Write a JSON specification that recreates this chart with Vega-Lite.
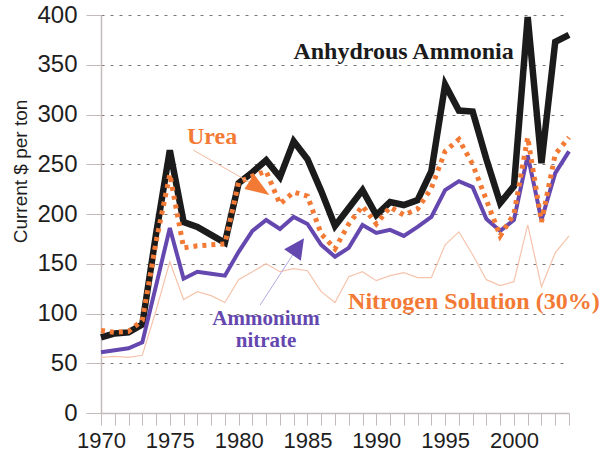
{
  "$schema": "https://vega.github.io/schema/vega-lite/v6.json",
  "width": 468,
  "height": 398,
  "autosize": "none",
  "padding": {"left": 101, "top": 15, "right": 36, "bottom": 44},
  "background": "white",
  "config": {"view": {"stroke": null}, "font": "Liberation Sans"},
  "datasets": {
    "anhydrous": [
      {"year":1970,"value":76},{"year":1971,"value":80},{"year":1972,"value":81},{"year":1973,"value":89},{"year":1974,"value":180},
      {"year":1975,"value":264},{"year":1976,"value":192},{"year":1977,"value":187},{"year":1978,"value":179},{"year":1979,"value":171},
      {"year":1980,"value":231},{"year":1981,"value":242},{"year":1982,"value":254},{"year":1983,"value":237},{"year":1984,"value":273},
      {"year":1985,"value":255},{"year":1986,"value":223},{"year":1987,"value":188},{"year":1988,"value":206},{"year":1989,"value":224},
      {"year":1990,"value":199},{"year":1991,"value":212},{"year":1992,"value":209},{"year":1993,"value":214},{"year":1994,"value":243},
      {"year":1995,"value":330},{"year":1996,"value":304},{"year":1997,"value":303},{"year":1998,"value":255},{"year":1999,"value":211},
      {"year":2000,"value":228},{"year":2001,"value":398},{"year":2002,"value":251},{"year":2003,"value":373},{"year":2004,"value":380}
    ],
    "urea": [
      {"year":1970,"value":83},{"year":1971,"value":81},{"year":1972,"value":82},{"year":1973,"value":93},{"year":1974,"value":172},
      {"year":1975,"value":240},{"year":1976,"value":166},{"year":1977,"value":168},{"year":1978,"value":169},{"year":1979,"value":170},
      {"year":1980,"value":232},{"year":1981,"value":238},{"year":1982,"value":243},{"year":1983,"value":210},{"year":1984,"value":222},
      {"year":1985,"value":218},{"year":1986,"value":180},{"year":1987,"value":165},{"year":1988,"value":190},{"year":1989,"value":208},
      {"year":1990,"value":190},{"year":1991,"value":207},{"year":1992,"value":199},{"year":1993,"value":205},{"year":1994,"value":226},
      {"year":1995,"value":263},{"year":1996,"value":275},{"year":1997,"value":250},{"year":1998,"value":214},{"year":1999,"value":178},
      {"year":2000,"value":200},{"year":2001,"value":277},{"year":2002,"value":192},{"year":2003,"value":260},{"year":2004,"value":277}
    ],
    "nitrate": [
      {"year":1970,"value":61},{"year":1971,"value":63},{"year":1972,"value":65},{"year":1973,"value":71},{"year":1974,"value":128},
      {"year":1975,"value":186},{"year":1976,"value":135},{"year":1977,"value":142},{"year":1978,"value":140},{"year":1979,"value":138},
      {"year":1980,"value":162},{"year":1981,"value":183},{"year":1982,"value":194},{"year":1983,"value":185},{"year":1984,"value":197},
      {"year":1985,"value":190},{"year":1986,"value":169},{"year":1987,"value":157},{"year":1988,"value":166},{"year":1989,"value":189},
      {"year":1990,"value":181},{"year":1991,"value":184},{"year":1992,"value":178},{"year":1993,"value":187},{"year":1994,"value":197},
      {"year":1995,"value":224},{"year":1996,"value":233},{"year":1997,"value":227},{"year":1998,"value":195},{"year":1999,"value":183},
      {"year":2000,"value":194},{"year":2001,"value":259},{"year":2002,"value":194},{"year":2003,"value":241},{"year":2004,"value":263}
    ],
    "solution": [
      {"year":1970,"value":56},{"year":1971,"value":57},{"year":1972,"value":56},{"year":1973,"value":58},{"year":1974,"value":103},
      {"year":1975,"value":152},{"year":1976,"value":114},{"year":1977,"value":122},{"year":1978,"value":118},{"year":1979,"value":111},
      {"year":1980,"value":134},{"year":1981,"value":142},{"year":1982,"value":150},{"year":1983,"value":142},{"year":1984,"value":145},
      {"year":1985,"value":143},{"year":1986,"value":122},{"year":1987,"value":111},{"year":1988,"value":137},{"year":1989,"value":142},
      {"year":1990,"value":133},{"year":1991,"value":138},{"year":1992,"value":141},{"year":1993,"value":136},{"year":1994,"value":136},
      {"year":1995,"value":169},{"year":1996,"value":182},{"year":1997,"value":159},{"year":1998,"value":134},{"year":1999,"value":128},
      {"year":2000,"value":132},{"year":2001,"value":189},{"year":2002,"value":127},{"year":2003,"value":161},{"year":2004,"value":178}
    ],
    "ureaArrow": [{"year":1976.69,"value":264.3,"year2":1980.76,"value2":232.2}],
    "nitrateArrow": [{"year":1981.56,"value":108.5,"year2":1983.92,"value2":158.8}],
    "ureaHead": [{"year":1981.5,"value":225.8}],
    "nitrateHead": [{"year":1984.33,"value":167.2}],
    "blackNotes": [{"year":1991.98,"value":362.8,"label":"Anhydrous Ammonia"}],
    "orangeNotes": [{"year":1978.07,"value":277.4,"label":"Urea"}],
    "solutionNote": [{"year":1987.95,"value":111.6,"label":"Nitrogen Solution (30%)"}],
    "purpleNotes": [{"year":1981.99,"value":94.5,"label":"Ammonium"},{"year":1981.99,"value":72.4,"label":"nitrate"}]
  },
  "encoding": {
    "x": {
      "field": "year", "type": "quantitative",
      "scale": {"domain": [1970, 2004], "nice": false, "zero": false},
      "axis": {
        "values": [1970,1971,1972,1973,1974,1975,1976,1977,1978,1979,1980,1981,1982,1983,1984,1985,1986,1987,1988,1989,1990,1991,1992,1993,1994,1995,1996,1997,1998,1999,2000,2001,2002,2003,2004],
        "format": "d",
        "labelExpr": "datum.value % 5 === 0 ? datum.label : ''",
        "labelOverlap": false, "labelFlush": false,
        "tickSize": 12, "tickColor": "#c4baba", "domainColor": "#c4baba", "domainWidth": 1.5,
        "labelFontSize": 22, "labelColor": "#1e1e1e", "labelPadding": 5,
        "grid": false, "title": null, "zindex": 1
      }
    },
    "y": {
      "field": "value", "type": "quantitative",
      "scale": {"domain": [0, 400], "nice": false},
      "axis": {
        "values": [0,50,100,150,200,250,300,350,400],
        "grid": true, "gridDash": [3,6], "gridColor": "#7d7575",
        "tickSize": 15, "tickColor": "#c4baba",
        "domainColor": "#c4baba", "domainWidth": 1.5,
        "labelFontSize": 24, "labelColor": "#1e1e1e", "labelPadding": 9,
        "title": "Current $ per ton", "titleFontSize": 19, "titleFontWeight": "normal", "titleColor": "#1e1e1e",
        "titleX": -81, "titleY": 156, "titleAngle": -90, "titleAlign": "center", "titleBaseline": "middle"
      }
    }
  },
  "layer": [
    {"data": {"name": "solution"}, "mark": {"type": "line", "stroke": "#f6c4ad", "strokeWidth": 1.2}},
    {"data": {"name": "anhydrous"}, "mark": {"type": "line", "stroke": "#1b1b1b", "strokeWidth": 6.5}},
    {"data": {"name": "nitrate"}, "mark": {"type": "line", "stroke": "#6547b0", "strokeWidth": 4}},
    {"data": {"name": "urea"}, "mark": {"type": "line", "stroke": "#f37a35", "strokeWidth": 5, "strokeDash": [4, 5]}},
    {"data": {"name": "ureaArrow"}, "mark": {"type": "rule", "stroke": "#f3b9a0", "strokeWidth": 1},
     "encoding": {"x2": {"field": "year2"}, "y2": {"field": "value2"}}},
    {"data": {"name": "nitrateArrow"}, "mark": {"type": "rule", "stroke": "#b3a8e0", "strokeWidth": 1},
     "encoding": {"x2": {"field": "year2"}, "y2": {"field": "value2"}}},
    {"data": {"name": "ureaHead"}, "mark": {"type": "point", "shape": "M1,0L-1,-0.73L-1,0.73Z", "filled": true, "color": "#f37a35", "opacity": 1, "size": 581, "angle": 33.5, "strokeWidth": 0}},
    {"data": {"name": "nitrateHead"}, "mark": {"type": "point", "shape": "M1,0L-1,-1L-1,1Z", "filled": true, "color": "#6547b0", "opacity": 1, "size": 412, "angle": -55.4, "strokeWidth": 0}},
    {"data": {"name": "blackNotes"}, "mark": {"type": "text", "font": "Liberation Serif", "fontWeight": "bold", "fontSize": 24, "color": "#1b1b1b", "align": "center", "baseline": "middle"},
     "encoding": {"text": {"field": "label"}}},
    {"data": {"name": "orangeNotes"}, "mark": {"type": "text", "font": "Liberation Serif", "fontWeight": "bold", "fontSize": 24, "color": "#f37a35", "align": "center", "baseline": "middle"},
     "encoding": {"text": {"field": "label"}}},
    {"data": {"name": "solutionNote"}, "mark": {"type": "text", "font": "Liberation Serif", "fontWeight": "bold", "fontSize": 24, "color": "#f37a35", "align": "left", "baseline": "middle"},
     "encoding": {"text": {"field": "label"}}},
    {"data": {"name": "purpleNotes"}, "mark": {"type": "text", "font": "Liberation Serif", "fontWeight": "bold", "fontSize": 21, "color": "#6547b0", "align": "center", "baseline": "middle"},
     "encoding": {"text": {"field": "label"}}}
  ]
}
